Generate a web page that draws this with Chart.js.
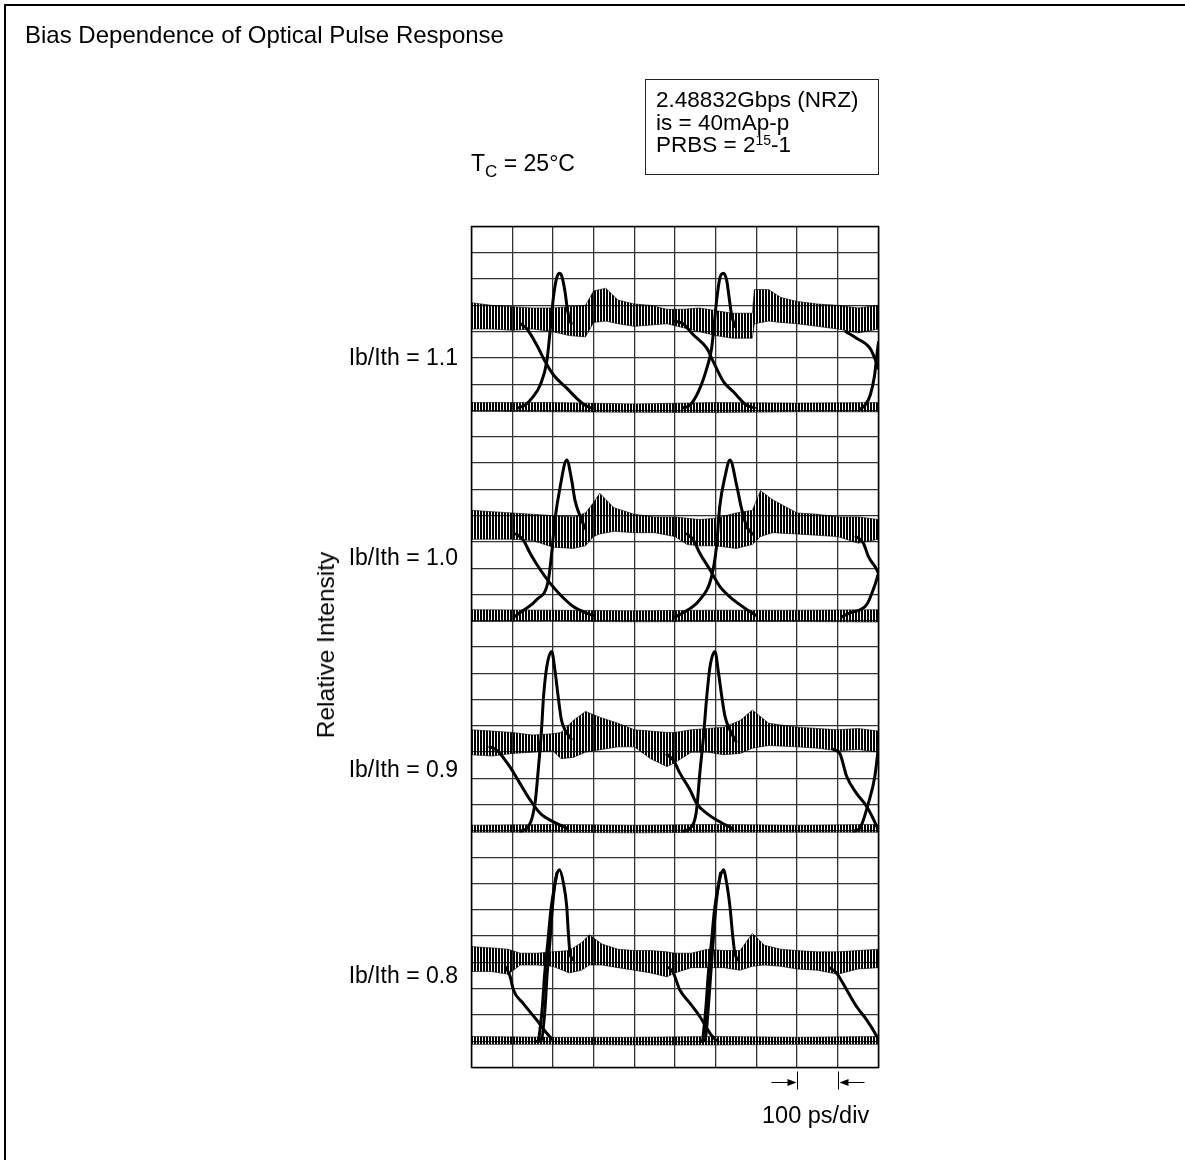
<!DOCTYPE html>
<html>
<head>
<meta charset="utf-8">
<script src="https://cdn.jsdelivr.net/npm/chart.js@4.4.1/dist/chart.umd.min.js"></script>
<style>
  html, body { margin: 0; padding: 0; background: #fff; }
  #wrap { position: relative; width: 1185px; height: 1160px; overflow: hidden;
          font-family: "Liberation Sans", Arial, sans-serif; font-size: 23px; color: #000; }
  #frame { position: absolute; left: 4px; top: 4px; width: 1200px; height: 1200px;
           border-top: 2px solid #000; border-left: 2px solid #000; }
  canvas { position: absolute; left: 0; top: 0; }
  .t { position: absolute; white-space: nowrap; line-height: 24px; }
  .lbl { position: absolute; right: 727px; white-space: nowrap; line-height: 24px; }
  #cond { position: absolute; left: 645px; top: 79px; width: 234px; height: 96px; box-sizing: border-box;
          border: 1px solid #222; padding: 9px 0 0 10px; line-height: 22.5px; font-size: 22.5px; }
  #cond sup { font-size: 14px; vertical-align: 7px; line-height: 0; }
  #tc sub { font-size: 17px; vertical-align: -6px; line-height: 0; }
  #ylab { position: absolute; left: 326px; top: 645px; transform: translate(-50%, -50%) rotate(-90deg);
          white-space: nowrap; font-size: 24.5px; }
</style>
</head>
<body>
<div id="wrap">
  <div id="frame"></div>
  <canvas id="eye" width="1185" height="1160"></canvas>
  <div class="t" style="left:25px; top:23px; font-size:24px;">Bias Dependence of Optical Pulse Response</div>
  <div id="cond">2.48832Gbps (NRZ)<br>is = 40mAp-p<br>PRBS = 2<sup>15</sup>-1</div>
  <div class="t" id="tc" style="left:471px; top:151px;">T<sub>C</sub> = 25°C</div>
  <div id="ylab">Relative Intensity</div>
  <div class="lbl" style="top:345px;">Ib/Ith = 1.1</div>
  <div class="lbl" style="top:545px;">Ib/Ith = 1.0</div>
  <div class="lbl" style="top:757px;">Ib/Ith = 0.9</div>
  <div class="lbl" style="top:963px;">Ib/Ith = 0.8</div>
  <div class="t" style="left:762px; top:1103px; font-size:23.5px;">100 ps/div</div>
</div>
<script>
// eye diagram traces, x in time divisions (0..10), y in vertical divisions inside each panel (0..8)
// bands: [x, top, bottom]   edges: list of traces of [x, y]

const panelLabels = ['Ib/Ith = 1.1', 'Ib/Ith = 1.0', 'Ib/Ith = 0.9', 'Ib/Ith = 0.8'];

// Ib/Ith = 1.1
const high11 = [[0,5.1,4.1],[0.5,5.0,4.1],[1.0,4.95,4.05],[1.5,4.9,4.1],[2.0,4.9,4.0],[2.4,4.95,3.85],[2.8,5.0,3.8],
  [3.0,5.55,4.35],[3.3,5.65,4.4],[3.6,5.2,4.3],[4.0,5.05,4.2],[4.4,5.0,4.25],[4.8,4.85,4.3],[5.2,4.85,4.15],
  [5.6,4.9,4.0],[6.0,4.8,3.85],[6.4,4.7,3.75],[6.9,4.7,3.75],[6.95,5.6,4.3],[7.3,5.6,4.4],[7.6,5.3,4.35],
  [8.0,5.15,4.3],[8.5,5.05,4.2],[9.0,5.0,4.1],[9.5,4.9,3.95],[10,5.0,4.1]];
const low11 = [[0,1.3,0.97],[2,1.3,0.95],[4,1.25,0.93],[6,1.3,0.92],[8,1.28,0.95],[10,1.3,0.95]];
const rise11 = [
  [[1.15,1.1],[1.31,1.2],[1.5,1.5],[1.69,1.98],[1.85,2.86],[1.93,4.0],[2.01,5.27],[2.09,6.03],[2.16,6.22],[2.22,6.1],[2.3,5.5],[2.36,4.8],[2.45,4.3]],
  [[5.2,1.1],[5.37,1.2],[5.6,1.8],[5.78,2.6],[5.9,3.37],[6.02,5.15],[6.1,6.03],[6.19,6.22],[6.27,5.95],[6.33,5.3],[6.39,4.64],[6.47,4.2]],
  [[9.55,1.05],[9.67,1.2],[9.8,1.6],[9.9,2.3],[9.96,3.1],[10,3.6]]
];
const fall11 = [
  [[1.2,4.3],[1.35,4.13],[1.6,3.5],[1.81,2.86],[2.01,2.36],[2.34,1.85],[2.58,1.47],[2.79,1.2],[2.95,1.1]],
  [[5.0,4.4],[5.2,4.3],[5.45,3.88],[5.78,3.37],[5.94,2.86],[6.19,2.1],[6.43,1.72],[6.76,1.2],[6.95,1.1]],
  [[9.2,4.0],[9.46,3.75],[9.79,3.37],[9.93,2.9],[10,2.6]]
];

// Ib/Ith = 1.0
const high10 = [[0,5.2,4.1],[0.5,5.15,4.1],[1.0,5.1,4.1],[1.5,5.05,4.05],[2.0,5.0,3.8],[2.5,4.95,3.75],[2.8,5.1,3.85],
  [3.0,5.5,4.2],[3.15,5.85,4.3],[3.5,5.3,4.4],[4.0,5.05,4.35],[4.5,4.95,4.35],[5.0,4.95,4.2],[5.3,4.9,3.9],
  [5.6,4.85,3.85],[6.0,4.9,3.85],[6.5,5.1,3.75],[6.9,5.2,3.9],[7.1,5.95,4.2],[7.4,5.6,4.35],[8.0,5.1,4.3],
  [8.5,5.05,4.25],[9.0,4.95,4.2],[9.5,4.95,3.95],[10,4.85,4.1]];
const low10 = [[0,1.42,0.97],[2,1.4,0.98],[4,1.38,0.96],[6,1.4,0.97],[8,1.4,0.97],[10,1.42,0.95]];
const rise10 = [
  [[1.05,1.15],[1.23,1.35],[1.6,1.8],[1.89,2.56],[1.97,3.57],[2.05,4.84],[2.18,6.11],[2.34,7.12],[2.46,6.36],[2.54,5.6],[2.67,4.97],[2.8,4.5]],
  [[5.0,1.15],[5.2,1.3],[5.61,1.8],[5.9,2.69],[6.02,3.83],[6.1,5.35],[6.23,6.49],[6.35,7.12],[6.52,6.11],[6.63,5.3],[6.76,4.59],[6.9,4.3]],
  [[9.1,1.15],[9.3,1.3],[9.71,1.61],[9.9,2.31],[10,2.8]]
];
const fall10 = [
  [[1.1,4.3],[1.27,4.08],[1.44,3.57],[1.69,2.94],[1.93,2.43],[2.18,1.99],[2.5,1.54],[2.83,1.29],[3.0,1.2]],
  [[5.3,4.3],[5.45,4.08],[5.61,3.57],[5.86,2.94],[6.1,2.31],[6.43,1.8],[6.84,1.35],[7.0,1.2]],
  [[9.45,4.2],[9.63,3.95],[9.75,3.45],[9.96,2.94],[10,2.8]]
];

// Ib/Ith = 0.9
const high09 = [[0,4.85,3.9],[0.5,4.8,3.85],[1.0,4.75,3.95],[1.5,4.65,4.0],[2.0,4.7,4.05],[2.2,4.75,3.75],[2.5,5.2,3.8],
  [2.8,5.55,4.0],[3.2,5.3,4.1],[3.6,5.1,4.2],[4.0,4.85,4.2],[4.4,4.8,3.75],[4.8,4.75,3.45],[5.0,4.75,3.6],
  [5.4,4.85,4.0],[5.8,4.9,4.0],[6.2,4.95,3.9],[6.6,5.2,3.95],[6.9,5.6,4.15],[7.3,5.1,4.25],[8.0,4.95,4.2],
  [8.5,4.9,4.15],[9.0,4.85,4.05],[9.5,4.9,4.1],[10,4.8,4.0]];
const low09 = [[0,1.22,0.95],[2,1.25,0.95],[4,1.22,0.93],[6,1.25,0.95],[8,1.22,0.95],[10,1.25,0.95]];
const rise09 = [
  [[1.2,1.0],[1.36,1.1],[1.56,2.05],[1.64,3.32],[1.72,4.84],[1.77,6.11],[1.85,7.25],[1.97,7.83],[2.05,7.12],[2.13,6.11],[2.21,5.22],[2.3,4.84],[2.45,4.5]],
  [[5.2,1.0],[5.37,1.1],[5.53,1.8],[5.61,3.2],[5.7,4.59],[5.78,6.11],[5.86,7.25],[5.98,7.83],[6.07,7.0],[6.15,6.11],[6.23,5.35],[6.35,4.84],[6.5,4.4]],
  [[9.4,1.0],[9.54,1.1],[9.75,2.05],[9.91,3.07],[9.98,3.95],[10,4.2]]
];
const fall09 = [
  [[0.45,4.2],[0.62,4.08],[0.94,3.45],[1.19,2.81],[1.44,2.18],[1.69,1.67],[2.09,1.29],[2.35,1.1]],
  [[4.8,3.9],[4.96,3.7],[5.12,3.2],[5.37,2.56],[5.53,2.05],[5.78,1.67],[6.1,1.35],[6.4,1.1]],
  [[8.9,4.1],[9.05,3.95],[9.22,3.07],[9.46,2.43],[9.71,1.93],[9.96,1.16],[10,1.0]]
];

// Ib/Ith = 0.8
const high08 = [[0,4.6,3.65],[0.5,4.55,3.65],[0.9,4.5,3.55],[1.2,4.35,3.9],[1.6,4.35,3.9],[2.0,4.4,3.85],[2.4,4.45,3.6],
  [2.7,4.75,3.7],[2.9,5.05,3.9],[3.2,4.7,3.9],[3.6,4.5,3.8],[4.0,4.45,3.7],[4.4,4.45,3.6],[4.8,4.4,3.45],
  [5.0,4.35,3.6],[5.4,4.35,3.8],[5.8,4.5,3.8],[6.2,4.45,3.8],[6.6,4.45,3.7],[6.9,5.1,3.85],[7.2,4.65,3.9],
  [7.6,4.5,3.85],[8.0,4.45,3.75],[8.5,4.4,3.7],[9.0,4.4,3.55],[9.5,4.45,3.75],[10,4.5,3.8]];
const low08 = [[0,1.18,0.88],[2,1.15,0.88],[4,1.15,0.86],[6,1.18,0.86],[8,1.15,0.88],[10,1.18,0.88]];
const rise08 = [
  [[1.6,1.0],[1.72,1.05],[1.81,2.32],[1.86,3.59],[1.93,4.85],[1.97,5.74],[2.05,7.01],[2.16,7.52],[2.26,7.01],[2.34,6.12],[2.38,5.11],[2.42,4.35],[2.5,4.1]],
  [[1.65,1.0],[1.74,2.3],[1.8,3.6],[1.88,4.85],[1.95,6.0],[2.1,7.4]],
  [[5.65,1.0],[5.74,1.05],[5.82,2.32],[5.88,3.59],[5.94,4.85],[6.02,6.38],[6.19,7.52],[6.27,7.01],[6.35,6.12],[6.42,4.98],[6.47,4.35],[6.55,4.1]],
  [[5.68,1.0],[5.76,2.3],[5.82,3.6],[5.9,4.85],[5.97,6.0],[6.12,7.4]]
];
const fall08 = [
  [[0.85,3.8],[0.95,3.46],[1.03,2.95],[1.27,2.44],[1.6,1.81],[1.85,1.3],[2.0,1.05]],
  [[4.85,3.8],[4.96,3.59],[5.12,2.95],[5.37,2.44],[5.61,1.94],[5.86,1.3],[6.0,1.05]],
  [[8.8,3.8],[8.97,3.59],[9.22,2.95],[9.46,2.32],[9.71,1.81],[9.96,1.18],[10,1.05]]
];

const panels = [
  { high: high11, low: low11, rise: rise11, fall: fall11 },
  { high: high10, low: low10, rise: rise10, fall: fall10 },
  { high: high09, low: low09, rise: rise09, fall: fall09 },
  { high: high08, low: low08, rise: rise08, fall: fall08 }
];
const rowsPerPanel = 8;

const canvas = document.getElementById('eye');
const ctx = canvas.getContext('2d');

// the noisy levels are drawn as a band filled with fine vertical hatching
const tile = document.createElement('canvas');
tile.width = 3; tile.height = 4;
const tctx = tile.getContext('2d');
tctx.fillStyle = '#000';
tctx.fillRect(0, 0, 2, 4);
const hatch = ctx.createPattern(tile, 'repeat');

const datasets = [];
panels.forEach((p, i) => {
  const base = (panels.length - 1 - i) * rowsPerPanel;
  const pt = (x, v) => ({ x: x, y: base + v });
  [p.high, p.low].forEach(band => {
    datasets.push({ data: band.map(r => pt(r[0], r[1])), fill: '+1', backgroundColor: hatch,
      borderColor: 'rgba(0,0,0,0.6)', borderWidth: 1, order: 1 });
    datasets.push({ data: band.map(r => pt(r[0], r[2])), fill: false,
      borderColor: 'rgba(0,0,0,0.6)', borderWidth: 1, order: 1 });
  });
  p.rise.concat(p.fall).forEach(tr => {
    datasets.push({ data: tr.map(q => pt(q[0], q[1])), fill: false, borderColor: '#000',
      borderWidth: 3, cubicInterpolationMode: 'monotone', order: 0 });
  });
});

// plot frame and the 100 ps/div marker below the last two divisions
const extras = {
  id: 'extras',
  afterDraw(chart) {
    const { ctx, chartArea: a, scales: { x } } = chart;
    ctx.save();
    ctx.strokeStyle = '#000';
    ctx.lineWidth = 1.5;
    ctx.strokeRect(a.left, a.top, a.right - a.left, a.bottom - a.top);

    const x8 = Math.round(x.getPixelForValue(8)) + 0.5;
    const x9 = Math.round(x.getPixelForValue(9)) + 0.5;
    const ym = a.bottom + 15;
    ctx.lineWidth = 1;
    ctx.beginPath();
    ctx.moveTo(x8, a.bottom + 4); ctx.lineTo(x8, a.bottom + 22);
    ctx.moveTo(x9, a.bottom + 4); ctx.lineTo(x9, a.bottom + 22);
    ctx.moveTo(x8 - 26, ym); ctx.lineTo(x8 - 8, ym);
    ctx.moveTo(x9 + 26, ym); ctx.lineTo(x9 + 8, ym);
    ctx.stroke();
    ctx.fillStyle = '#000';
    ctx.beginPath();
    ctx.moveTo(x8 - 1, ym); ctx.lineTo(x8 - 10, ym - 3.5); ctx.lineTo(x8 - 10, ym + 3.5); ctx.closePath();
    ctx.moveTo(x9 + 1, ym); ctx.lineTo(x9 + 10, ym - 3.5); ctx.lineTo(x9 + 10, ym + 3.5); ctx.closePath();
    ctx.fill();
    ctx.restore();
  }
};

new Chart(ctx, {
  type: 'line',
  data: { datasets: datasets },
  options: {
    responsive: false,
    animation: false,
    devicePixelRatio: 1,
    events: [],
    layout: { padding: { left: 471.5, right: 306.5, top: 226.5, bottom: 92.5 } },
    elements: { point: { radius: 0 }, line: { tension: 0, borderJoinStyle: 'round', borderCapStyle: 'round' } },
    plugins: { legend: { display: false }, tooltip: { enabled: false }, title: { display: false } },
    scales: {
      x: { type: 'linear', min: 0, max: 10,
           ticks: { display: false, stepSize: 1 },
           grid: { color: '#333', lineWidth: 1.3, drawTicks: false },
           border: { display: false } },
      y: { type: 'linear', min: 0, max: panels.length * rowsPerPanel,
           ticks: { display: false, stepSize: 1 },
           grid: { color: '#333', lineWidth: 1.3, drawTicks: false },
           border: { display: false } }
    }
  },
  plugins: [extras]
});
</script>
</body>
</html>
